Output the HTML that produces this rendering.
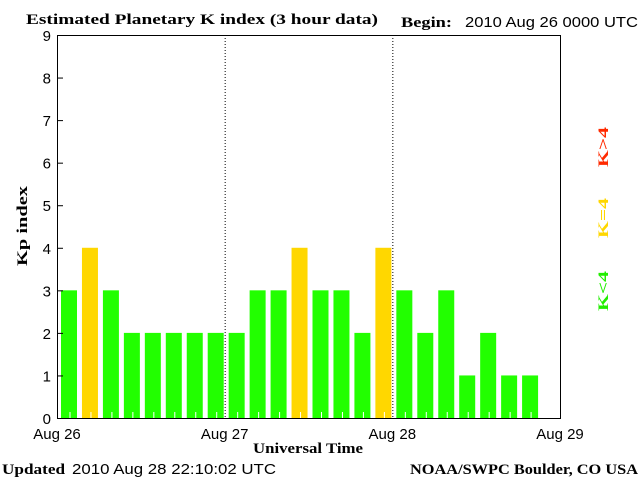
<!DOCTYPE html>
<html><head><meta charset="utf-8"><style>
html,body{margin:0;padding:0;background:#fff}
svg{display:block}
.s{font-family:"Liberation Sans",sans-serif;font-size:15px}
.b{font-family:"Liberation Serif",serif;font-weight:bold;font-size:15px}
</style></head><body>
<svg id="c" width="640" height="480">
<text x="26" y="24" class="b" textLength="352" lengthAdjust="spacingAndGlyphs">Estimated Planetary K index (3 hour data)</text>
<text x="401" y="27" class="b" textLength="51" lengthAdjust="spacingAndGlyphs">Begin:</text>
<text x="465" y="27" class="s" textLength="173" lengthAdjust="spacingAndGlyphs">2010 Aug 26 0000 UTC</text>
<text x="2" y="474" class="b" textLength="63" lengthAdjust="spacingAndGlyphs">Updated</text>
<text x="72" y="474" class="s" textLength="204" lengthAdjust="spacingAndGlyphs">2010 Aug 28 22:10:02 UTC</text>
<text x="410" y="474" class="b" textLength="228" lengthAdjust="spacingAndGlyphs">NOAA/SWPC Boulder, CO USA</text>
<text x="253" y="453" class="b" textLength="110" lengthAdjust="spacingAndGlyphs">Universal Time</text>
<text transform="translate(27,266) rotate(-90)" class="b" textLength="80" lengthAdjust="spacingAndGlyphs">Kp index</text>
<text transform="translate(608,167) rotate(-90)" class="b" fill="#ff2a00" font-size="20" textLength="40" lengthAdjust="spacingAndGlyphs">K&gt;4</text>
<text transform="translate(608,238) rotate(-90)" class="b" fill="#ffd700" font-size="20" textLength="40" lengthAdjust="spacingAndGlyphs">K=4</text>
<text transform="translate(608,311) rotate(-90)" class="b" fill="#22ee00" font-size="20" textLength="40" lengthAdjust="spacingAndGlyphs">K&lt;4</text>
<g id="plot"></g>
</svg>
<script>
const kpValues=[3,4,3,2,2,2,2,2, 2,3,3,4,3,3,2,4, 3,2,3,1,2,1,1];
const yTicks=[0,1,2,3,4,5,6,7,8,9];
const dayLabels=["Aug 26","Aug 27","Aug 28","Aug 29"];
const X0=57,X1=560,Y0=418,Y1=35;
const slot=(X1-X0)/24;
const xs=i=>X0+i*slot;
const ys=v=>Y0-(v/9)*(Y0-Y1);
const g=document.getElementById('plot');
const NS='http://www.w3.org/2000/svg';
function mk(t,a){const e=document.createElementNS(NS,t);for(const k in a)e.setAttribute(k,a[k]);g.appendChild(e);return e;}
kpValues.forEach((v,i)=>{
 const col=v>4?'#ff2a00':(v==4?'#ffd700':'#22ff00');
 const r=mk('rect',{x:xs(i)+4,y:ys(v),width:16,height:Y0-ys(v),fill:col});
 
 
 const t=mk('line',{x1:xs(i)+13,x2:xs(i)+13,y1:Y0-6,y2:Y0,stroke:'#fff','stroke-width':1});
 
 
});
[1,2].forEach(d=>{
 const l=mk('line',{x1:xs(d*8)+0.5,x2:xs(d*8)+0.5,y1:Y1,y2:Y0,stroke:'#000','stroke-dasharray':'1,2'});
 
 
});
const f=mk('rect',{x:X0+0.5,y:Y1+0.5,width:X1-X0,height:Y0-Y1,fill:'none',stroke:'#000','stroke-width':1});


yTicks.forEach(v=>{
 const tk=mk('line',{x1:X0,x2:X0+6,y1:ys(v)+0.5,y2:ys(v)+0.5,stroke:'#000'});
 
 
 const tx=mk('text',{x:X0-6,y:ys(v)+6,'text-anchor':'end',class:'s'});
 tx.textContent=v;
 
 
});
dayLabels.forEach((d,i)=>{
 const tx=mk('text',{x:xs(i*8),y:439,'text-anchor':'middle',class:'s'});
 tx.textContent=d;
 
 
});
</script>
</body></html>
